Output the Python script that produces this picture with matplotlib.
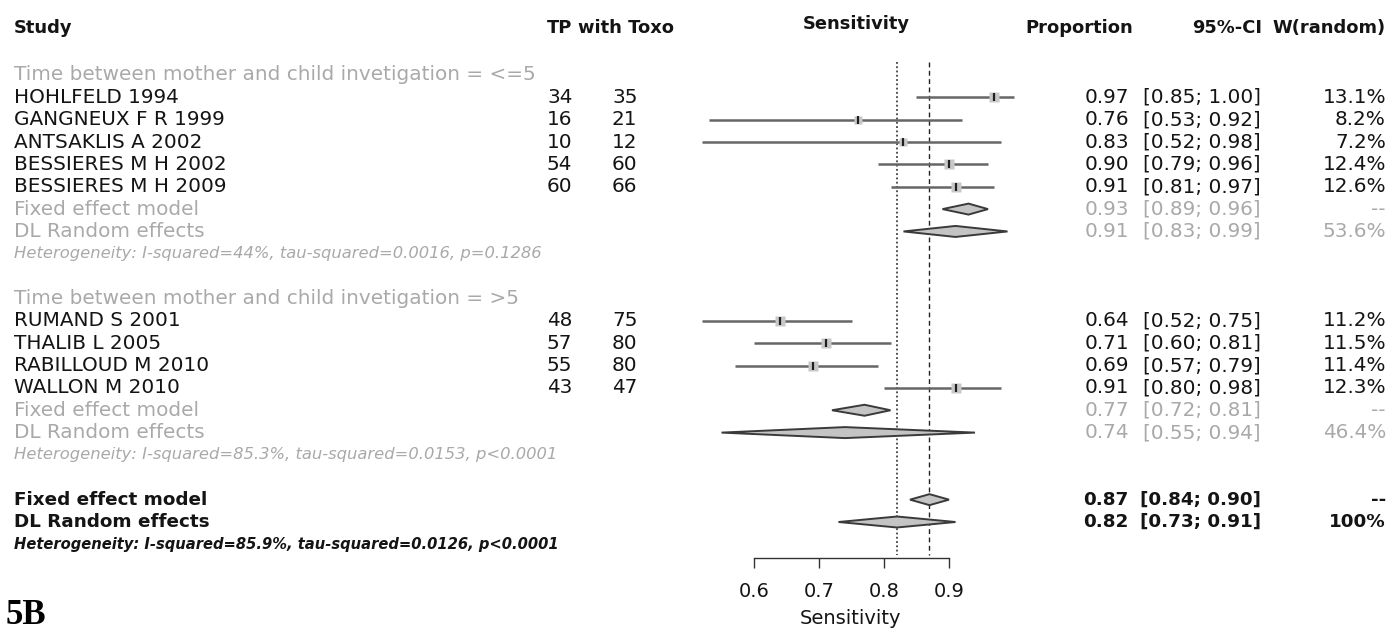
import matplotlib
matplotlib.use("Agg")
import matplotlib.pyplot as plt
from matplotlib.patches import Polygon

plt.rcParams['font.family'] = ['DejaVu Sans']

# ---- data -------------------------------------------------------------
group_labels = ["Time between mother and child invetigation = <=5",
                "Time between mother and child invetigation = >5"]

studies_g1 = ["HOHLFELD 1994", "GANGNEUX F R 1999", "ANTSAKLIS A 2002",
              "BESSIERES M H 2002", "BESSIERES M H 2009"]
tp_g1 = [34, 16, 10, 54, 60]
n_g1 = [35, 21, 12, 60, 66]
prop_g1 = [0.97, 0.76, 0.83, 0.90, 0.91]
lo_g1 = [0.85, 0.53, 0.52, 0.79, 0.81]
hi_g1 = [1.00, 0.92, 0.98, 0.96, 0.97]
w_g1 = [13.1, 8.2, 7.2, 12.4, 12.6]
fixed_g1 = (0.93, 0.89, 0.96)
random_g1 = (0.91, 0.83, 0.99)
random_w_g1 = 53.6
het_g1 = "Heterogeneity: I-squared=44%, tau-squared=0.0016, p=0.1286"

studies_g2 = ["RUMAND S 2001", "THALIB L 2005", "RABILLOUD M 2010", "WALLON M 2010"]
tp_g2 = [48, 57, 55, 43]
n_g2 = [75, 80, 80, 47]
prop_g2 = [0.64, 0.71, 0.69, 0.91]
lo_g2 = [0.52, 0.60, 0.57, 0.80]
hi_g2 = [0.75, 0.81, 0.79, 0.98]
w_g2 = [11.2, 11.5, 11.4, 12.3]
fixed_g2 = (0.77, 0.72, 0.81)
random_g2 = (0.74, 0.55, 0.94)
random_w_g2 = 46.4
het_g2 = "Heterogeneity: I-squared=85.3%, tau-squared=0.0153, p<0.0001"

fixed_all = (0.87, 0.84, 0.90)
random_all = (0.82, 0.73, 0.91)
het_all = "Heterogeneity: I-squared=85.9%, tau-squared=0.0126, p<0.0001"

x_ticks = [0.6, 0.7, 0.8, 0.9]

# ---- layout -----------------------------------------------------------
W, H = 1388, 631
BLACK = "#141414"
GREY = "#a9a9a9"
FS = 14.4
HEAD_FS = 12.9
BOLD_FS = 13.2
HET_FS = 11.8
HET_BOLD_FS = 10.6

fig = plt.figure(figsize=(W / 100, H / 100), dpi=100)
ax_t = fig.add_axes([0, 0, 1, 1])
ax_t.set_xlim(0, W)
ax_t.set_ylim(H, 0)
ax_t.axis("off")

plot_left, plot_right = 754, 949
plot_top, plot_bottom = 58, 558
ax_f = fig.add_axes([plot_left / W, (H - plot_bottom) / H,
                     (plot_right - plot_left) / W, (plot_bottom - plot_top) / H])
ax_f.set_xlim(x_ticks[0], x_ticks[-1])
ax_f.set_ylim(plot_bottom, plot_top)
ax_f.patch.set_alpha(0)
for s in ("top", "right", "left"):
    ax_f.spines[s].set_visible(False)
ax_f.spines["bottom"].set_color("#333333")
ax_f.spines["bottom"].set_linewidth(1.0)
ax_f.set_yticks([])
ax_f.set_xticks(x_ticks)
ax_f.set_xticklabels([f"{t:.1f}" for t in x_ticks])
ax_f.tick_params(axis="x", direction="out", length=7.5, width=1.0,
                 color="#333333", labelsize=14, labelcolor=BLACK, pad=10)


def row_y(r):
    return 75 + r * 22.35


# columns (pixel positions)
X_STUDY, X_TP, X_N = 14, 547, 612
X_PROP, X_CI, X_W = 1129, 1261, 1386


def txt(x, y, s, color=BLACK, ha="left", size=FS, weight="normal", style="normal"):
    ax_t.text(x, y, s, color=color, ha=ha, va="center", fontsize=size,
              fontweight=weight, fontstyle=style)


def stats_text(y, est, lo, hi, wtxt, color, weight="normal"):
    size = BOLD_FS if weight == "bold" else FS
    txt(X_PROP, y, f"{est:.2f}", color, ha="right", weight=weight, size=size)
    txt(X_CI, y, f"[{lo:.2f}; {hi:.2f}]", color, ha="right", weight=weight, size=size)
    txt(X_W, y, wtxt, color, ha="right", weight=weight, size=size)


def diamond(y, est, lo, hi, half_h=5.5):
    poly = Polygon([(lo, y), (est, y - half_h), (hi, y), (est, y + half_h)],
                   closed=True, facecolor="#c4c4c4", edgecolor="#3a3a3a",
                   linewidth=1.4, clip_on=False, zorder=3)
    ax_f.add_patch(poly)


# headers
txt(X_STUDY, 28, "Study", weight="bold", size=HEAD_FS)
txt(X_TP, 28, "TP", weight="bold", size=HEAD_FS)
txt(578, 28, "with Toxo", weight="bold", size=HEAD_FS)
txt(856, 24, "Sensitivity", ha="center", weight="bold", size=HEAD_FS)
txt(1133, 28, "Proportion", ha="right", weight="bold", size=HEAD_FS)
txt(1262, 28, "95%-CI", ha="right", weight="bold", size=HEAD_FS)
txt(X_W, 28, "W(random)", ha="right", weight="bold", size=HEAD_FS)

groups = [
    (group_labels[0], studies_g1, tp_g1, n_g1, prop_g1, lo_g1, hi_g1, w_g1,
     fixed_g1, random_g1, random_w_g1, het_g1),
    (group_labels[1], studies_g2, tp_g2, n_g2, prop_g2, lo_g2, hi_g2, w_g2,
     fixed_g2, random_g2, random_w_g2, het_g2),
]

row = 0
for (label, names, tps, ns, props, los, his, ws,
     fixed, rand, rand_w, het) in groups:
    txt(X_STUDY, row_y(row), label, GREY)
    row += 1
    for name, a, n, p, lo, hi, w in zip(names, tps, ns, props, los, his, ws):
        y = row_y(row)
        txt(X_STUDY, y, name)
        txt(X_TP, y, str(a))
        txt(X_N, y, str(n))
        stats_text(y, p, lo, hi, f"{w:.1f}%", BLACK)
        ax_f.plot([lo, hi], [y, y], color="#666666", lw=1.8,
                  clip_on=False, zorder=2, solid_capstyle="butt")
        ax_f.plot([p], [y], marker="s", ms=7.2 * (w / 12.0) ** 0.5,
                  color="#c8c8c8", mec="none", clip_on=False, zorder=3)
        ax_f.plot([p], [y], marker="|", ms=6, mew=1.6, color="#202020",
                  clip_on=False, zorder=4)
        row += 1
    y = row_y(row)
    txt(X_STUDY, y, "Fixed effect model", GREY)
    stats_text(y, *fixed, "--", GREY)
    diamond(y, *fixed)
    row += 1
    y = row_y(row)
    txt(X_STUDY, y, "DL Random effects", GREY)
    stats_text(y, *rand, f"{rand_w:.1f}%", GREY)
    diamond(y, *rand)
    row += 1
    txt(X_STUDY, row_y(row), het, GREY, size=HET_FS, style="italic")
    row += 2

y = row_y(row)
txt(X_STUDY, y, "Fixed effect model", weight="bold", size=BOLD_FS)
stats_text(y, *fixed_all, "--", BLACK, weight="bold")
diamond(y, *fixed_all)
row += 1
y = row_y(row)
txt(X_STUDY, y, "DL Random effects", weight="bold", size=BOLD_FS)
stats_text(y, *random_all, "100%", BLACK, weight="bold")
diamond(y, *random_all)
row += 1
txt(X_STUDY, row_y(row), het_all, size=HET_BOLD_FS, weight="bold", style="italic")

# reference lines for the pooled estimates
ax_f.vlines(random_all[0], 62, 555, colors="#222222", linestyles=(0, (1.2, 1.6)),
            linewidth=1.1, zorder=1)
ax_f.vlines(fixed_all[0], 62, 555, colors="#222222", linestyles=(0, (3.5, 2.5)),
            linewidth=1.0, zorder=1)

txt(851, 619, "Sensitivity", size=14, ha="center")
ax_t.text(6, 615, "5B", color="#000000", ha="left", va="center", fontsize=25,
          fontweight="bold", family="Liberation Serif")

fig.savefig("out.png", dpi=100)
